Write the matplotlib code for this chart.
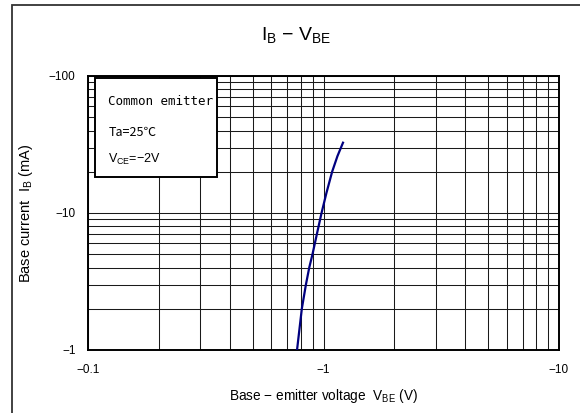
import numpy as np
import matplotlib
matplotlib.use('Agg')
import matplotlib.pyplot as plt
from matplotlib.patches import Rectangle
from matplotlib.ticker import FixedLocator, FixedFormatter, NullFormatter

plt.rcParams['font.family'] = ['Liberation Sans', 'DejaVu Sans']
plt.rcParams['mathtext.fontset'] = 'custom'
plt.rcParams['mathtext.rm'] = 'Liberation Sans'
plt.rcParams['mathtext.it'] = 'Liberation Sans'

# IB - VBE curve (PNP, values are negative)
vbe = [-0.772, -0.809, -0.842, -0.870, -0.898, -0.937, -0.981, -1.029, -1.088, -1.146, -1.210]
ib = [-1, -2, -3, -4, -5, -7, -10, -14, -20, -26, -32.6]

x_major = [-0.1, -1, -10]
y_major = [-1, -10, -100]
x_labels = ['\u22120.1', '\u22121', '\u221210']
y_labels = ['\u22121', '\u221210', '\u2212100']

fig = plt.figure(figsize=(5.8, 4.13), dpi=100)
ax = fig.add_axes([88/580, 63/413, 471/580, 274/413])

ax.set_xscale('log')
ax.set_yscale('log')
ax.set_xlim(0.1, 10)
ax.set_ylim(1, 100)

ax.plot(np.abs(vbe), np.abs(ib), color='#000080', lw=1.6, zorder=3,
        solid_joinstyle='round')

ax.xaxis.set_major_locator(FixedLocator(np.abs(x_major)))
ax.xaxis.set_major_formatter(FixedFormatter(x_labels))
ax.yaxis.set_major_locator(FixedLocator(np.abs(y_major)))
ax.yaxis.set_major_formatter(FixedFormatter(y_labels))
ax.xaxis.set_minor_formatter(NullFormatter())
ax.yaxis.set_minor_formatter(NullFormatter())
ax.tick_params(which='both', length=0, labelsize=8.5)
ax.tick_params(axis='x', pad=10)
ax.tick_params(axis='y', pad=9)
ax.grid(which='both', color='#1a1a1a', lw=0.75)
for s in ax.spines.values():
    s.set_linewidth(1.4)

ax.set_xlabel('Base \u2212 emitter voltage  $\\mathrm{V_{BE}}$ (V)', fontsize=9.8, labelpad=8)
ax.set_ylabel('Base current  $\\mathrm{I_B}$ (mA)', fontsize=10.5, labelpad=10)
fig.text(296/580, 1 - 35/413, '$\\mathrm{I_B}$ \u2212 $\\mathrm{V_{BE}}$', ha='center', va='center', fontsize=14)

# condition box
ax.add_patch(Rectangle((0.015, 0.632), 0.259, 0.362, transform=ax.transAxes,
                       facecolor='white', edgecolor='black', lw=1.4, zorder=4))
ax.text(0.043, 0.907, 'Common emitter', transform=ax.transAxes, fontsize=9,
        family=['DejaVu Sans Mono'], va='center', zorder=5)
ax.text(0.043, 0.795, 'Ta=25\u2103', transform=ax.transAxes, fontsize=9,
        family=['Noto Sans CJK JP', 'DejaVu Sans'], va='center', zorder=5)
ax.text(0.043, 0.695, '$\\mathrm{V_{CE}}$=\u22122V', transform=ax.transAxes, fontsize=9,
        va='center', zorder=5)

# outer frame (runs off the right and bottom edges)
fig.patches.append(Rectangle((12/580, -0.05), 1.0, 1 - 5/413 + 0.05, transform=fig.transFigure,
                             fill=False, edgecolor='#333333', lw=1.3))

fig.savefig('out.png', dpi=100)
